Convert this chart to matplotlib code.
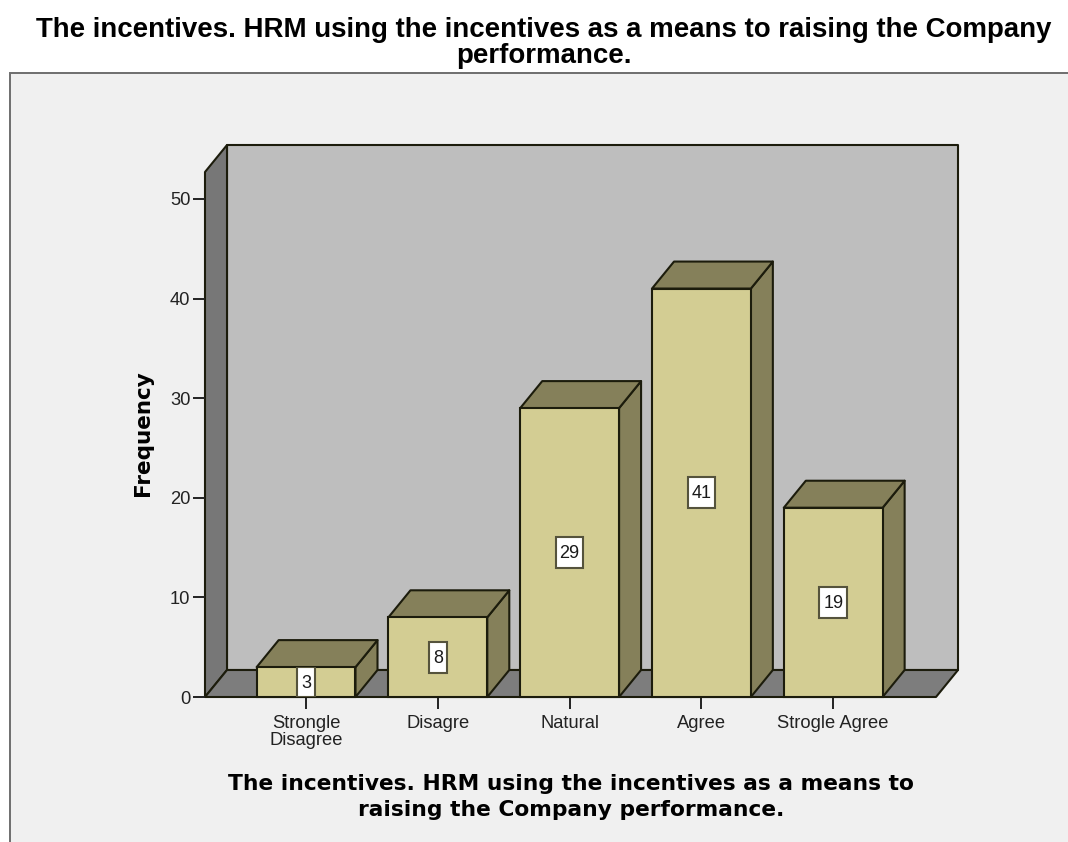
#!/usr/bin/env python3
"""Frequency bars with a box-style 3D look: back wall, floor, left wall and shaded bar faces."""
import matplotlib
matplotlib.use("Agg")
import matplotlib.pyplot as plt
from matplotlib.patches import Polygon, Rectangle

categories = ["Strongle\nDisagree", "Disagre", "Natural", "Agree", "Strogle Agree"]
freq = [3, 8, 29, 41, 19]
y_ticks = [0, 10, 20, 30, 40, 50]
title = "The incentives. HRM using the incentives as a means to raising the Company\nperformance."
xtitle = "The incentives. HRM using the incentives as a means to\nraising the Company performance."

W, H = 1068, 842
EDGE = "#1c1c0c"
LW = 1.5

plt.rcParams.update({"font.family": ["Liberation Sans", "DejaVu Sans"]})
fig = plt.figure(figsize=(W / 100, H / 100), dpi=100, facecolor="white")

# grey panel behind the chart
fig.add_artist(Rectangle((10 / W, -0.01), 1.01 - 10 / W, 1.01 - 73 / H, transform=fig.transFigure,
                         fc="#f0f0f0", ec="#6e6e6e", lw=1.4, zorder=-1))

ax = fig.add_axes([205 / W, (H - 697) / H, 731 / W, 525 / H])
ax.patch.set_visible(False)
x0, x1 = -0.767, 4.78
ymax = 52.7
ax.set_xlim(x0, x1)
ax.set_ylim(0, ymax)
for s in ax.spines.values():
    s.set_visible(False)

# depth of the box in data units
dx = 0.167
dy = 2.71
bar_w = 0.75


def poly(pts, fc, z):
    ax.add_patch(Polygon(pts, closed=True, fc=fc, ec=EDGE, lw=LW, zorder=z,
                         clip_on=False, joinstyle="round"))


# walls and floor
poly([(x0 + dx, dy), (x1 + dx, dy), (x1 + dx, ymax + dy), (x0 + dx, ymax + dy)], "#bebebe", 1)
poly([(x0, 0), (x0 + dx, dy), (x0 + dx, ymax + dy), (x0, ymax)], "#777777", 1.1)
poly([(x0, 0), (x1, 0), (x1 + dx, dy), (x0 + dx, dy)], "#7d7d7d", 1.2)

# bars: side, top, front, then the value box clipped to the front face
for i, v in enumerate(freq):
    l, r = i - bar_w / 2, i + bar_w / 2
    poly([(r, 0), (r + dx, dy), (r + dx, v + dy), (r, v)], "#85805a", 3)
    poly([(l, v), (r, v), (r + dx, v + dy), (l + dx, v + dy)], "#85805a", 3)
    front = Rectangle((l, 0), bar_w, v, fc="#d3cd93", ec=EDGE, lw=LW, zorder=4, clip_on=False)
    ax.add_patch(front)
    box_w = 0.21 if v >= 10 else 0.14
    box = Rectangle((i - box_w / 2, v / 2 - 1.55), box_w, 3.1, fc="white", ec="#55533c", lw=1.5, zorder=5)
    ax.add_patch(box)
    box.set_clip_path(front)
    ax.text(i, v / 2 - 0.1, str(v), ha="center", va="center", fontsize=13, color="#1a1a1a", zorder=6)

ax.set_xticks(range(len(categories)), categories)
ax.set_yticks(y_ticks)
ax.tick_params(axis="both", length=8.6, width=1.4, color="#222222", labelcolor="#222222",
               labelsize=13.2, pad=2)
ax.tick_params(axis="x", pad=4)
for lab in ax.get_xticklabels():
    lab.set_linespacing(1.05)

fig.text(143 / W, 1 - 433 / H, "Frequency", rotation=90, ha="center", va="center",
         fontsize=15.5, fontweight="bold", color="black", family="DejaVu Sans")
fig.text(571 / W, 1 - 797 / H, xtitle, ha="center", va="center", fontsize=15.65,
         fontweight="bold", color="black", linespacing=1.38, family="DejaVu Sans")
fig.text(544 / W, 1 - 43 / H, title, ha="center", va="center", fontsize=19.9,
         fontweight="bold", color="black", linespacing=0.96)

fig.savefig("out.png", dpi=100)
